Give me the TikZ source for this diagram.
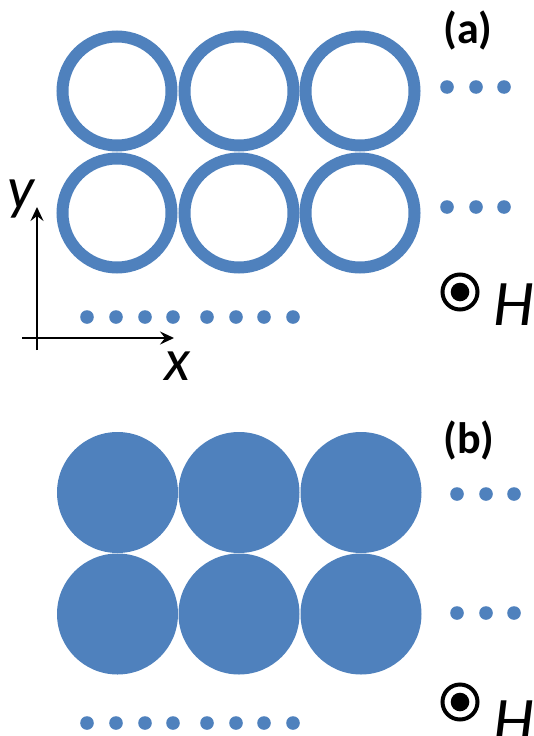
\documentclass[tikz,border=0pt]{standalone}
\usepackage{fontspec}
\setmainfont{Carlito}
\usetikzlibrary{arrows.meta}
\definecolor{ringblue}{HTML}{4F81BD}
\tikzset{
  ring/.style={circle,draw=ringblue,line width=12pt,minimum size=109pt,inner sep=0pt},
  disc/.style={circle,fill=ringblue,minimum size=121pt,inner sep=0pt},
  dot/.style={circle,fill=ringblue,minimum size=13.6pt,inner sep=0pt},
  label/.style={font=\fontsize{44}{44}\selectfont\bfseries,anchor=base,inner sep=0pt},
  fieldname/.style={font=\fontsize{65}{65}\selectfont\itshape,anchor=base,inner sep=0pt},
  axisname/.style={font=\fontsize{60}{60}\selectfont\itshape,anchor=base,inner sep=0pt},
  outring/.style={circle,draw=black,line width=4pt,minimum size=35pt,inner sep=0pt},
  outdot/.style={circle,fill=black,minimum size=18.6pt,inner sep=0pt},
  axis/.style={line width=2.5pt,-{Stealth[length=14pt,width=13pt,inset=5pt]}}
}
\begin{document}
\begin{tikzpicture}[x=1pt,y=-1pt]
\useasboundingbox (0,0) rectangle (533,736);
% (a) rings
\node[ring] (a11) at (117,91) {};
\node[ring] (a12) at (239,91) {};
\node[ring] (a13) at (360,91) {};
\node[ring] (a21) at (117,213) {};
\node[ring] (a22) at (239,213) {};
\node[ring] (a23) at (360,213) {};
% (a) side dots
\node[dot] (ar1d1) at (447,87) {};
\node[dot] (ar1d2) at (476,87) {};
\node[dot] (ar1d3) at (504,87) {};
\node[dot] (ar2d1) at (447,207) {};
\node[dot] (ar2d2) at (476,207) {};
\node[dot] (ar2d3) at (504,207) {};
% (a) bottom dots
\foreach \i/\x in {1/87,2/116,3/145,4/173,5/207,6/236,7/264,8/293}
  \node[dot] (ab\i) at (\x,317) {};
% (a) label and field
\node[label] (la) at (468,43) {(a)};
\node[outring] (ha) at (460,292) {};
\node[outdot] (hadot) at (460,292) {};
\node[fieldname] (hname) at (514,325) {H};
% axes
\coordinate (yfoot) at (37,350);
\coordinate (ytip) at (37,207);
\coordinate (xfoot) at (22,338);
\coordinate (xtip) at (174,338);
\draw[axis] (yfoot) -- (ytip);
\draw[axis] (xfoot) -- (xtip);
\node[axisname] (xname) at (177,380) {x};
\node[axisname] (yname) at (21,208) {y};
% (b) discs
\node[disc] (b11) at (117.5,492.5) {};
\node[disc] (b12) at (239,492.5) {};
\node[disc] (b13) at (361,492.5) {};
\node[disc] (b21) at (117.5,614) {};
\node[disc] (b22) at (239,614) {};
\node[disc] (b23) at (361,614) {};
% (b) side dots
\node[dot] (br1d1) at (457,494) {};
\node[dot] (br1d2) at (486,494) {};
\node[dot] (br1d3) at (514,494) {};
\node[dot] (br2d1) at (457,613) {};
\node[dot] (br2d2) at (486,613) {};
\node[dot] (br2d3) at (514,613) {};
% (b) bottom dots
\foreach \i/\x in {1/87,2/116,3/145,4/173,5/207,6/236,7/264,8/293}
  \node[dot] (bb\i) at (\x,723) {};
% (b) label and field
\node[label] (lb) at (469,453) {(b)};
\node[outring] (hb) at (460,702) {};
\node[outdot] (hbdot) at (460,702) {};
\node[fieldname] (hbname) at (514,742) {H};
\end{tikzpicture}
\end{document}
